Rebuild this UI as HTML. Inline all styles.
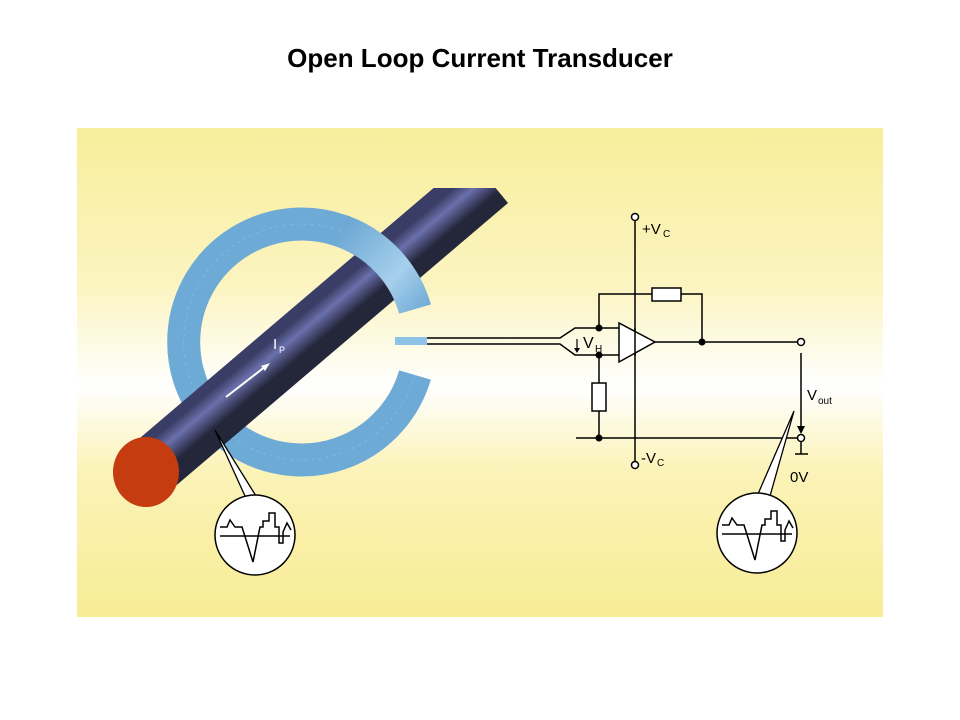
<!DOCTYPE html>
<html><head><meta charset="utf-8"><style>
body{margin:0;background:#fff}
svg{display:block}
text{font-family:"Liberation Sans",sans-serif}
</style></head><body>
<svg width="960" height="720" viewBox="0 0 960 720" xmlns="http://www.w3.org/2000/svg">
<defs>
<linearGradient id="bg" x1="0" y1="0" x2="0" y2="1">
<stop offset="0" stop-color="#f8ee9c"/><stop offset="0.32" stop-color="#fbf4c0"/>
<stop offset="0.53" stop-color="#ffffff"/><stop offset="0.7" stop-color="#fbf3b8"/>
<stop offset="1" stop-color="#f8ec95"/></linearGradient>
<linearGradient id="rodg" gradientUnits="userSpaceOnUse" x1="302" y1="315" x2="322" y2="339">
<stop offset="0" stop-color="#3a3e66"/><stop offset="0.4" stop-color="#6a70ac"/><stop offset="1" stop-color="#24263a"/></linearGradient>
<linearGradient id="ringf" gradientUnits="userSpaceOnUse" x1="340" y1="230" x2="430" y2="310">
<stop offset="0" stop-color="#6ca8d4"/><stop offset="0.6" stop-color="#a6cfec"/><stop offset="1" stop-color="#6ca8d4"/></linearGradient>
<clipPath id="pc"><rect x="77" y="188" width="806" height="429"/></clipPath>
<g id="wave">
<circle cx="0" cy="0" r="40" fill="#fff" stroke="#000" stroke-width="1.5"/>
<line x1="-35" y1="1" x2="35" y2="1" stroke="#000" stroke-width="1.5"/>
<polyline fill="none" stroke="#000" stroke-width="1.5" points="-35,-8 -28,-8 -25,-15 -20,-8 -13,-8 -2,27 5,-8 8,-8 8,-14 14,-14 14,-22 20,-22 20,-8 24,-8 24,8 28,8 28,-3 32,-12 36,-5"/>
</g>
</defs>
<text x="480" y="67" text-anchor="middle" font-size="26" font-weight="bold">Open Loop Current Transducer</text>
<rect x="77" y="128" width="806" height="489" fill="url(#bg)"/>
<path d="M415,309 A118,118 0 1 0 415,375" fill="none" stroke="#6eaad6" stroke-width="33"/>
<path d="M415,309 A118,118 0 1 0 415,375" fill="none" stroke="#9cc6e4" stroke-width="1" stroke-dasharray="3 4" opacity="0.5"/>
<g clip-path="url(#pc)">
<polygon points="165,495 127,449 470,157 508,203" fill="url(#rodg)"/>
</g>
<ellipse cx="146" cy="472" rx="33" ry="35" fill="#c43c10"/>
<path d="M415,309 A118,118 0 0 0 342,231" fill="none" stroke="url(#ringf)" stroke-width="33"/>
<line x1="226" y1="397" x2="266" y2="366" stroke="#fff" stroke-width="2"/>
<polygon points="270,363 261,366 265,371" fill="#fff"/>
<text x="273" y="349" fill="#fff" font-size="15">I</text><text x="279" y="353" fill="#fff" font-size="9">P</text>
<rect x="395" y="337" width="32" height="8" fill="#8cc3e6"/>
<g stroke="#000" stroke-width="1.5" fill="none">
<polyline points="427,338 560,338 575,328 619,328"/>
<polyline points="427,344 560,344 575,355 619,355"/>
<line x1="635" y1="220" x2="635" y2="462"/>
<polygon points="619,323 619,362 655,342" fill="#fff"/>
<line x1="635" y1="328" x2="635" y2="356"/>
<polyline points="599,328 599,294 702,294 702,342"/>
<rect x="652" y="288" width="29" height="13" fill="#fff"/>
<line x1="655" y1="342" x2="797" y2="342"/>
<line x1="599" y1="355" x2="599" y2="438"/>
<rect x="592" y="383" width="14" height="28" fill="#fff"/>
<line x1="576" y1="438" x2="798" y2="438"/>
<line x1="801" y1="442" x2="801" y2="454"/><line x1="795" y1="454" x2="808" y2="454"/>
<line x1="801" y1="353" x2="801" y2="428"/>
<line x1="577" y1="339" x2="577" y2="350" stroke-width="1.2"/>
</g>
<polygon points="797,426 805,426 801,434" fill="#000"/>
<polygon points="574,348 580,348 577,353" fill="#000"/>
<g fill="#fff" stroke="#000" stroke-width="1.5">
<circle cx="635" cy="217" r="3.5"/><circle cx="635" cy="465" r="3.5"/>
<circle cx="801" cy="342" r="3.5"/><circle cx="801" cy="438" r="3.5"/>
</g>
<g fill="#000"><circle cx="599" cy="328" r="3.5"/><circle cx="599" cy="355" r="3.5"/><circle cx="702" cy="342" r="3.5"/><circle cx="599" cy="438" r="3.5"/></g>
<text x="642" y="234" font-size="15">+V</text><text x="663" y="237" font-size="10">C</text>
<text x="641" y="463" font-size="15">-V</text><text x="657" y="466" font-size="10">C</text>
<text x="583" y="348" font-size="16">V</text><text x="595" y="352" font-size="10">H</text>
<text x="807" y="400" font-size="15">V</text><text x="818" y="404" font-size="10">out</text>
<text x="790" y="482" font-size="15">0V</text>
<polygon points="215,430 245,496 256,496" fill="#fff" stroke="#000" stroke-width="1.3"/>
<polygon points="794,411 758,494 770,496" fill="#fff" stroke="#000" stroke-width="1.3"/>
<use href="#wave" x="255" y="535"/>
<use href="#wave" x="757" y="533"/>
</svg>
</body></html>
